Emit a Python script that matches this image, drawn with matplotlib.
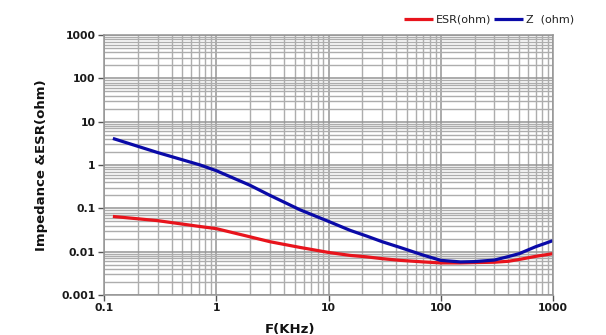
import matplotlib
matplotlib.use("Agg")
import matplotlib.pyplot as plt
from matplotlib.ticker import LogLocator, FixedLocator, FixedFormatter, NullFormatter

# Frequency sweep (kHz) and measured curves (ohm)
freq_khz = [0.12, 0.3, 0.72, 1, 2, 3, 5.6, 10, 15.6, 21.8, 30, 43.5,
            70, 100, 150, 200, 300, 400, 500, 700, 1000]
z_ohm = [4.1, 1.94, 1.0, 0.74, 0.34, 0.2, 0.092, 0.05, 0.031, 0.023, 0.017, 0.0125,
         0.0083, 0.0063, 0.0058, 0.0059, 0.0064, 0.0077, 0.009, 0.013, 0.018]
esr_ohm = [0.065, 0.052, 0.038, 0.034, 0.022, 0.017, 0.0125, 0.0096, 0.0082, 0.0076, 0.0069, 0.0063,
           0.0058, 0.0055, 0.0055, 0.0056, 0.0057, 0.0060, 0.0066, 0.0078, 0.009]

x_ticks = [0.1, 1, 10, 100, 1000]
x_tick_labels = ["0.1", "1", "10", "100", "1000"]
y_ticks = [0.001, 0.01, 0.1, 1, 10, 100, 1000]
y_tick_labels = ["0.001", "0.01", "0.1", "1", "10", "100", "1000"]

W, H = 606, 335
fig = plt.figure(figsize=(W / 100, H / 100), dpi=100)
ax = fig.add_axes([104 / W, 1 - 295 / H, (553 - 104) / W, (295 - 35) / H])

ax.set_xscale("log")
ax.set_yscale("log")
ax.set_xlim(0.1, 1000)
ax.set_ylim(0.001, 1000)

ax.xaxis.set_major_locator(FixedLocator(x_ticks))
ax.xaxis.set_major_formatter(FixedFormatter(x_tick_labels))
ax.yaxis.set_major_locator(FixedLocator(y_ticks))
ax.yaxis.set_major_formatter(FixedFormatter(y_tick_labels))
ax.xaxis.set_minor_locator(LogLocator(base=10, subs=range(2, 10)))
ax.yaxis.set_minor_locator(LogLocator(base=10, subs=range(2, 10)))
ax.xaxis.set_minor_formatter(NullFormatter())
ax.yaxis.set_minor_formatter(NullFormatter())

ax.grid(which="major", color="#959595", linewidth=1.1)
ax.grid(which="minor", color="#adadad", linewidth=1.0)
ax.set_axisbelow(True)

for s in ax.spines.values():
    s.set_color("#959595")
    s.set_linewidth(1.1)

ax.tick_params(which="major", length=4, width=1, color="#555555", pad=2,
               labelsize=7.8)
ax.tick_params(which="minor", length=0)
for lab in ax.get_xticklabels() + ax.get_yticklabels():
    lab.set_fontweight("bold")
    lab.set_color("#1a1a1a")

ax.plot(freq_khz, esr_ohm, color="#e8141c", linewidth=2.3, label="ESR(ohm)",
        solid_capstyle="butt", solid_joinstyle="round")
ax.plot(freq_khz, z_ohm, color="#0a0aa8", linewidth=2.3, label="Z  (ohm)",
        solid_capstyle="butt", solid_joinstyle="round")

ax.set_ylabel("Impedance &ESR(ohm)", fontsize=9.5, fontweight="bold",
              color="#111111", labelpad=10)
fig.text(290 / W, 1 - 329 / H, "F(KHz)", fontsize=9.5, fontweight="bold",
         color="#111111", ha="center", va="center")

leg = fig.legend(loc="center left", bbox_to_anchor=(404 / W, 1 - 20 / H),
                 ncol=2, frameon=False, fontsize=8, handlelength=2.6,
                 handletextpad=0.25, columnspacing=0.3, borderpad=0,
                 borderaxespad=0)
for t in leg.get_texts():
    t.set_color("#222222")

fig.savefig("out.png", dpi=100)
